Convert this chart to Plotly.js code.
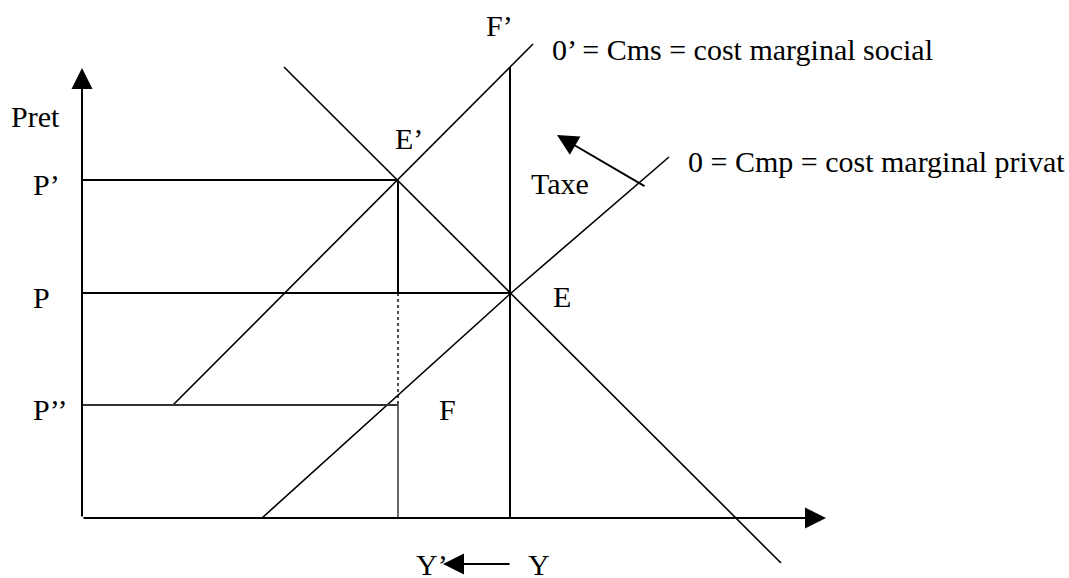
<!DOCTYPE html>
<html>
<head>
<meta charset="utf-8">
<script src="https://cdn.plot.ly/plotly-3.0.1.min.js"></script>
<style>
  body { margin: 0; background: white; }
  #chart { width: 1069px; height: 578px; }
</style>
</head>
<body>
<div id="chart"></div>
<script>
// Values: origin at the axes corner, quantity right, price up
const demandX = [202, 699];
const demandY = [451, -45];
const cmsX = [91, 451];          // 0' = cost marginal social
const cmsY = [113, 474];
const cmpX = [180, 428, 587];    // 0 = cost marginal privat
const cmpY = [0, 224, 361];

const priceValues = [338, 225, 113];          // P', P, P''
const priceLabels = ['P’', 'P', 'P’’'];
const priceEnds = [316, 428, 316];            // where each price line stops
const qtyYprime = 316;
const qtyY = 428;
const qtyYtop = 451;
const axisTipX = 744;
const axisTipY = 450;

// label text and where it sits
const labelTexts = ['Pret', 'E’', 'E', 'F', 'F’', 'Taxe',
  '0’ = Cms = cost marginal social', '0 = Cmp = cost marginal privat', 'Y’', 'Y'];
const labelX = [-73, 311, 469, 355, 402, 447, 468, 604, 332, 444];
const labelY = [402, 380, 222, 109, 492.5, 335, 469, 356.5, -46, -46];

// arrows: tail -> tip
const taxeArrow = { tail: [564, 331], tip: [475, 383] };
const qtyArrow = { tail: [429, -46], tip: [361, -46] };

const black = '#000';
const serif = '"Liberation Serif", "Times New Roman", serif';

function seg(x, y, width, dash, color) {
  return {
    x: x, y: y, type: 'scatter', mode: 'lines', hoverinfo: 'skip',
    line: { color: color || black, width: width || 2, dash: dash || 'solid' }
  };
}

const traces = [];

// curves
traces.push(seg(demandX, demandY, 1.6));
traces.push(seg(cmsX, cmsY, 1.6));
traces.push(seg(cmpX, cmpY, 1.6));

// price guides
priceValues.forEach((p, i) => traces.push(seg([0, priceEnds[i]], [p, p], 2)));

// lower rectangle under P'' (greyish edge) and dotted drop from P to P''
traces.push(seg([0, qtyYprime, qtyYprime], [priceValues[2], priceValues[2], 0], 1.6, 'solid', '#444'));
traces.push(seg([qtyYprime, qtyYprime], [priceValues[1], priceValues[2]], 1.4, 'dot'));
traces.push(seg([qtyYprime, qtyYprime], [priceValues[0], priceValues[1]], 2));

// vertical at Y up to F'
traces.push(seg([qtyY, qtyY], [0, qtyYtop], 2));

const annotations = [];

function arrow(tail, tip) {
  return {
    x: tip[0], y: tip[1], ax: tail[0], ay: tail[1],
    xref: 'x', yref: 'y', axref: 'x', ayref: 'y',
    text: '', showarrow: true, arrowhead: 2, arrowsize: 2.1,
    arrowwidth: 2, arrowcolor: black, standoff: 0, startstandoff: 0
  };
}

// axes with arrow heads
annotations.push(arrow([0, 0], [0, axisTipY]));
annotations.push(arrow([0, 0], [axisTipX, 0]));
annotations.push(arrow(taxeArrow.tail, taxeArrow.tip));
annotations.push(arrow(qtyArrow.tail, qtyArrow.tip));

// price labels on the left
priceValues.forEach((p, i) => annotations.push({
  x: -51, y: p - 4, xref: 'x', yref: 'y', text: priceLabels[i],
  showarrow: false, xanchor: 'left', yanchor: 'middle',
  font: { family: serif, size: 30, color: black }
}));

labelTexts.forEach((t, i) => annotations.push({
  x: labelX[i], y: labelY[i], xref: 'x', yref: 'y', text: t,
  showarrow: false, xanchor: 'left', yanchor: 'middle',
  font: { family: serif, size: 30, color: black }
}));

const layout = {
  width: 1069,
  height: 578,
  margin: { l: 0, r: 0, t: 0, b: 0 },
  showlegend: false,
  paper_bgcolor: 'white',
  plot_bgcolor: 'white',
  font: { family: serif },
  xaxis: { range: [-82, 987], visible: false, fixedrange: true },
  yaxis: { range: [-60, 518], visible: false, fixedrange: true },
  annotations: annotations
};

Plotly.newPlot('chart', traces, layout, { displayModeBar: false, staticPlot: true });
</script>
</body>
</html>
